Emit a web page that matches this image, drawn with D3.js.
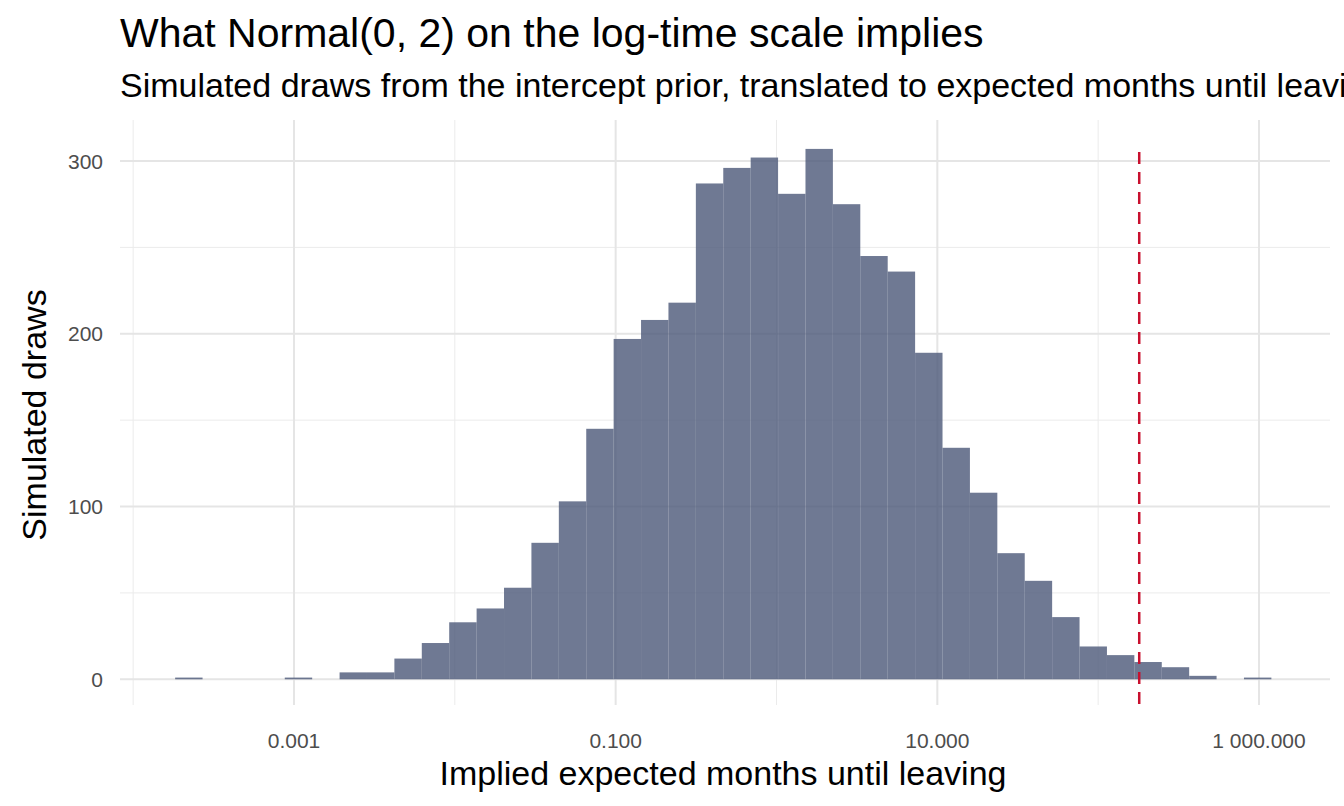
<!DOCTYPE html>
<html><head><meta charset="utf-8">
<script src="https://cdn.jsdelivr.net/npm/d3@7"></script>
<style>body{margin:0;background:#fff;}svg{display:block;font-family:"Liberation Sans",Arial,sans-serif;}</style>
</head><body>
<svg id="c" width="1344" height="806"></svg>
<script>
// histogram bins on log10 scale
const binStartLog10 = -3.739;
const binWidthLog10 = 0.1704;
const counts = [1,0,0,0,1,0,4,4,12,21,33,41,53,79,103,145,197,208,218,287,296,302,281,307,275,245,236,189,134,108,73,57,36,19,14,10,7,2,0,1];
const refLine = 180;
const xTicks = [0.001, 0.1, 10, 1000];
const xTickLabels = ["0.001", "0.100", "10.000", "1 000.000"];
const xMinor = [0.0001, 0.01, 1, 100];
const yTicks = [0, 100, 200, 300];
const yMinor = [50, 150, 250];

const svg = d3.select("#c");
const L = 120, R = 1330, T = 120, B = 705;
const x = d3.scaleLog().domain([1e-3, 1e3]).range([294, 1259]);
const y = d3.scaleLinear().domain([0, 300]).range([679.3, 161]);

const g = svg.append("g");
g.selectAll(".ym").data(yMinor).join("line").attr("x1", L).attr("x2", R)
  .attr("y1", d => y(d)).attr("y2", d => y(d)).attr("stroke", "#ebebeb").attr("stroke-width", 1);
g.selectAll(".xm").data(xMinor).join("line").attr("y1", T).attr("y2", B)
  .attr("x1", d => x(d)).attr("x2", d => x(d)).attr("stroke", "#ebebeb").attr("stroke-width", 1);
g.selectAll(".yM").data(yTicks).join("line").attr("x1", L).attr("x2", R)
  .attr("y1", d => y(d)).attr("y2", d => y(d)).attr("stroke", "#e5e5e5").attr("stroke-width", 2);
g.selectAll(".xM").data(xTicks).join("line").attr("y1", T).attr("y2", B)
  .attr("x1", d => x(d)).attr("x2", d => x(d)).attr("stroke", "#e5e5e5").attr("stroke-width", 2);

const bins = counts.map((c, i) => ({
  x0: Math.pow(10, binStartLog10 + i * binWidthLog10),
  x1: Math.pow(10, binStartLog10 + (i + 1) * binWidthLog10), c }));
g.selectAll(".bar").data(bins.filter(d => d.c > 0)).join("rect")
  .attr("x", d => x(d.x0)).attr("width", d => x(d.x1) - x(d.x0))
  .attr("y", d => y(d.c)).attr("height", d => y(0) - y(d.c))
  .attr("fill", "#4b5878").attr("fill-opacity", 0.8);

g.append("line").attr("x1", x(refLine)).attr("x2", x(refLine)).attr("y1", T + 32).attr("y2", B)
  .attr("stroke", "#c8102e").attr("stroke-width", 2.5).attr("stroke-dasharray", "12,8");

g.selectAll(".xt").data(xTicks).join("text").attr("x", d => x(d)).attr("y", 748)
  .attr("text-anchor", "middle").attr("font-size", 21).attr("fill", "#4d4d4d")
  .text((d, i) => xTickLabels[i]);
g.selectAll(".yt").data(yTicks).join("text").attr("x", 103).attr("y", d => y(d) + 7.5)
  .attr("text-anchor", "end").attr("font-size", 21).attr("fill", "#4d4d4d").text(d => d);

svg.append("text").attr("x", 120).attr("y", 47).attr("font-size", 41).attr("fill", "#000")
  .text("What Normal(0, 2) on the log-time scale implies");
svg.append("text").attr("x", 120).attr("y", 97).attr("font-size", 34).attr("fill", "#000")
  .text("Simulated draws from the intercept prior, translated to expected months until leaving");
svg.append("text").attr("x", 723).attr("y", 785).attr("text-anchor", "middle").attr("font-size", 34)
  .text("Implied expected months until leaving");
svg.append("text").attr("transform", "translate(46,415) rotate(-90)").attr("text-anchor", "middle")
  .attr("font-size", 34).text("Simulated draws");
</script>
</body></html>
